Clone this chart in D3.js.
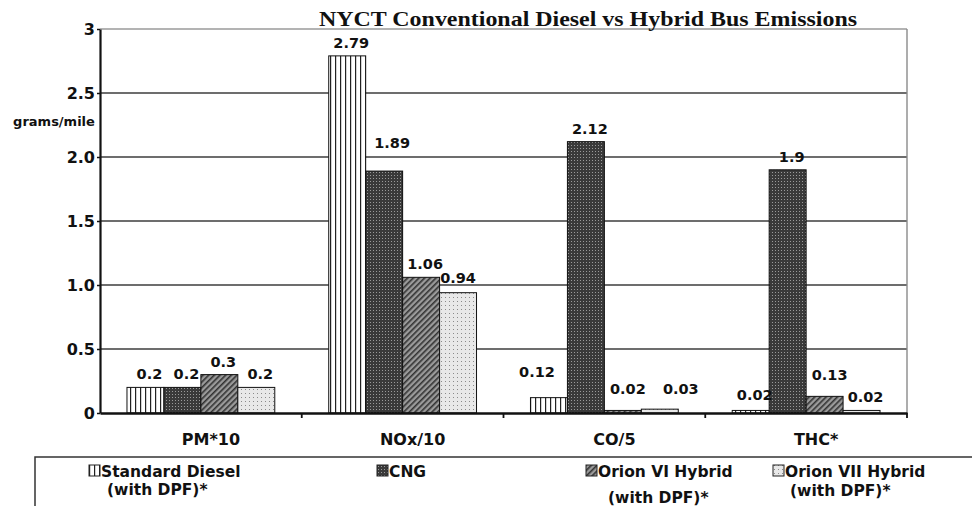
<!DOCTYPE html>
<html>
<head>
<meta charset="utf-8">
<script src="https://cdn.jsdelivr.net/npm/d3@7"></script>
<style>
  body { margin: 0; background: #fff; }
  svg { display: block; }
  .tick-label, .cat-label, .value-label, .legend-text, .unit-label {
    font-family: "DejaVu Sans", sans-serif;
    font-weight: bold;
    fill: #111;
  }
</style>
</head>
<body>
<svg id="chart"></svg>
<script>
// Data
const categories = ['PM*10', 'NOx/10', 'CO/5', 'THC*'];
const seriesKeys = ['std', 'cng', 'orion6', 'orion7'];
const seriesNames = [
  ['Standard Diesel', '(with DPF)*'],
  ['CNG'],
  ['Orion VI Hybrid', '(with DPF)*'],
  ['Orion VII Hybrid', '(with DPF)*']
];
const standardDiesel = [0.2, 2.79, 0.12, 0.02];
const cng = [0.2, 1.89, 2.12, 1.9];
const orionVI = [0.3, 1.06, 0.02, 0.13];
const orionVII = [0.2, 0.94, 0.03, 0.02];
const yTicks = [0, 0.5, 1, 1.5, 2, 2.5, 3];
const yTickLabels = ['0', '0.5', '1.0', '1.5', '2.0', '2.5', '3'];

const seriesValues = [standardDiesel, cng, orionVI, orionVII];

const width = 972, height = 506;
const margin = {top: 29, right: 65, bottom: 93, left: 100};

const svg = d3.select('#chart')
    .attr('width', width)
    .attr('height', height);

// Patterns for the bar fills
const defs = svg.append('defs');

const pStd = defs.append('pattern')
    .attr('id', 'pat-std').attr('patternUnits', 'userSpaceOnUse')
    .attr('width', 5).attr('height', 5);
pStd.append('rect').attr('width', 5).attr('height', 5).attr('fill', '#fff');
pStd.append('rect').attr('x', 0).attr('width', 1.2).attr('height', 5).attr('fill', '#222');

const pCng = defs.append('pattern')
    .attr('id', 'pat-cng').attr('patternUnits', 'userSpaceOnUse')
    .attr('width', 3).attr('height', 3);
pCng.append('rect').attr('width', 3).attr('height', 3).attr('fill', '#3a3a3a');
pCng.append('rect').attr('x', 1).attr('y', 1).attr('width', 1).attr('height', 1).attr('fill', '#9a9a9a');

const pO6 = defs.append('pattern')
    .attr('id', 'pat-o6').attr('patternUnits', 'userSpaceOnUse')
    .attr('width', 4).attr('height', 4)
    .attr('patternTransform', 'rotate(45)');
pO6.append('rect').attr('width', 4).attr('height', 4).attr('fill', '#9a9a9a');
pO6.append('rect').attr('width', 1.6).attr('height', 4).attr('fill', '#333');

const pO7 = defs.append('pattern')
    .attr('id', 'pat-o7').attr('patternUnits', 'userSpaceOnUse')
    .attr('width', 4).attr('height', 4);
pO7.append('rect').attr('width', 4).attr('height', 4).attr('fill', '#e8e8e8');
pO7.append('rect').attr('x', 1).attr('y', 1).attr('width', 1).attr('height', 1).attr('fill', '#8a8a8a');

const fills = {std: 'url(#pat-std)', cng: 'url(#pat-cng)', orion6: 'url(#pat-o6)', orion7: 'url(#pat-o7)'};

// Scales
const x0 = d3.scaleBand()
    .domain(categories)
    .range([margin.left, width - margin.right])
    .paddingInner(0).paddingOuter(0);

const x1 = d3.scaleBand()
    .domain(seriesKeys)
    .range([0, x0.bandwidth()])
    .paddingInner(0).paddingOuter(0.73);

const y = d3.scaleLinear()
    .domain([0, 3])
    .range([height - margin.bottom, margin.top]);

const rows = [];
categories.forEach((c, i) => {
  seriesKeys.forEach((k, j) => {
    rows.push({cat: c, key: k, value: seriesValues[j][i]});
  });
});

// Gridlines
svg.append('g')
  .selectAll('line')
  .data(yTicks.filter(d => d > 0))
  .join('line')
    .attr('x1', margin.left)
    .attr('x2', width - margin.right)
    .attr('y1', d => y(d))
    .attr('y2', d => y(d))
    .attr('stroke', d => d === 3 ? '#9a9a9a' : '#3c3c3c')
    .attr('stroke-width', 1.4);

// Right border
svg.append('line')
    .attr('x1', width - margin.right).attr('x2', width - margin.right)
    .attr('y1', y(3)).attr('y2', y(0))
    .attr('stroke', '#8a8a8a').attr('stroke-width', 1.4);

// Bars
svg.append('g')
  .selectAll('rect')
  .data(rows)
  .join('rect')
    .attr('x', d => x0(d.cat) + x1(d.key))
    .attr('y', d => y(d.value))
    .attr('width', x1.bandwidth())
    .attr('height', d => y(0) - y(d.value))
    .attr('fill', d => fills[d.key])
    .attr('stroke', '#111')
    .attr('stroke-width', 1);

// Value labels (nudged where the original had them moved)
const nudge = {
  'NOx/10|cng': [4, -15],
  'NOx/10|orion7': [-4, -2],
  'CO/5|std': [-16, -13],
  'CO/5|orion6': [1, -8],
  'CO/5|orion7': [17, -7],
  'THC*|orion6': [1, -8],
  'THC*|std': [0, -2]
};
svg.append('g')
  .selectAll('text')
  .data(rows)
  .join('text')
    .attr('class', 'value-label')
    .attr('x', d => x0(d.cat) + x1(d.key) + x1.bandwidth() / 2 + 4 + (nudge[d.cat + '|' + d.key] || [0, 0])[0])
    .attr('y', d => y(d.value) - 8 + (nudge[d.cat + '|' + d.key] || [0, 0])[1])
    .attr('text-anchor', 'middle')
    .style('font-size', '14.5px')
    .text(d => String(d.value));

// Y axis
const yAxis = d3.axisLeft(y)
    .tickValues(yTicks)
    .tickFormat((d, i) => yTickLabels[i])
    .tickSize(3)
    .tickSizeOuter(0);

const yAxisG = svg.append('g')
    .attr('transform', `translate(${margin.left},0)`)
    .call(yAxis);
yAxisG.select('.domain').attr('stroke', '#111').attr('stroke-width', 2.2);
yAxisG.selectAll('.tick line').attr('stroke', '#111').attr('stroke-width', 1.5);
yAxisG.selectAll('.tick text')
    .attr('class', 'tick-label')
    .attr('x', -5)
    .style('font-size', '16px')
    .style('font-family', '"DejaVu Sans", sans-serif')
    .style('font-weight', 'bold')
    .attr('fill', '#111');

svg.append('text')
    .attr('class', 'unit-label')
    .attr('x', 54)
    .attr('y', 126)
    .attr('text-anchor', 'middle')
    .style('font-size', '13px')
    .text('grams/mile');

// X axis
const xAxis = d3.axisBottom(x0).tickSize(0).tickSizeOuter(0);
const xAxisG = svg.append('g')
    .attr('transform', `translate(0,${y(0)})`)
    .call(xAxis);
xAxisG.select('.domain').attr('stroke', '#111').attr('stroke-width', 2.5);
xAxisG.selectAll('.tick text')
    .attr('class', 'cat-label')
    .attr('dx', 10)
    .attr('y', 21)
    .style('font-size', '16px')
    .style('font-family', '"DejaVu Sans", sans-serif')
    .style('font-weight', 'bold')
    .attr('fill', '#111');

// Tick marks at category boundaries
svg.append('g')
  .selectAll('line')
  .data(categories.slice(1).concat(['end']))
  .join('line')
    .attr('x1', d => d === 'end' ? x0.range()[1] : x0(d))
    .attr('x2', d => d === 'end' ? x0.range()[1] : x0(d))
    .attr('y1', y(0))
    .attr('y2', y(0) + 5)
    .attr('stroke', '#111')
    .attr('stroke-width', 1.8);

// Title
svg.append('text')
    .attr('x', 588)
    .attr('y', 26)
    .attr('text-anchor', 'middle')
    .attr('textLength', 538)
    .attr('lengthAdjust', 'spacingAndGlyphs')
    .style('font-family', '"Liberation Serif", serif')
    .style('font-weight', 'bold')
    .style('font-size', '21px')
    .attr('fill', '#111')
    .text('NYCT Conventional Diesel vs Hybrid Bus Emissions');

// Legend
const legendTop = 457;
svg.append('path')
    .attr('d', `M35,${height}V${legendTop}H${width}`)
    .attr('fill', 'none')
    .attr('stroke', '#333')
    .attr('stroke-width', 1.5);

const legendX = [89, 377, 586, 773];
const legendIndent = [[0, 6], [0], [0, 10], [0, 5]];
const legendLine2Y = [495, 0, 503, 496];

const legend = svg.append('g')
  .selectAll('g')
  .data(seriesKeys)
  .join('g')
    .attr('transform', (d, i) => `translate(${legendX[i]},0)`);

legend.append('rect')
    .attr('x', 0).attr('y', 465)
    .attr('width', 11).attr('height', 11)
    .attr('fill', d => fills[d])
    .attr('stroke', '#222').attr('stroke-width', 1);

legend.each(function(d, i) {
  const g = d3.select(this);
  seriesNames[i].forEach((line, j) => {
    g.append('text')
        .attr('class', 'legend-text')
        .attr('x', 12 + legendIndent[i][j])
        .attr('y', j === 0 ? 477 : legendLine2Y[i])
        .style('font-size', '15.5px')
        .text(line);
  });
});
</script>
</body>
</html>
